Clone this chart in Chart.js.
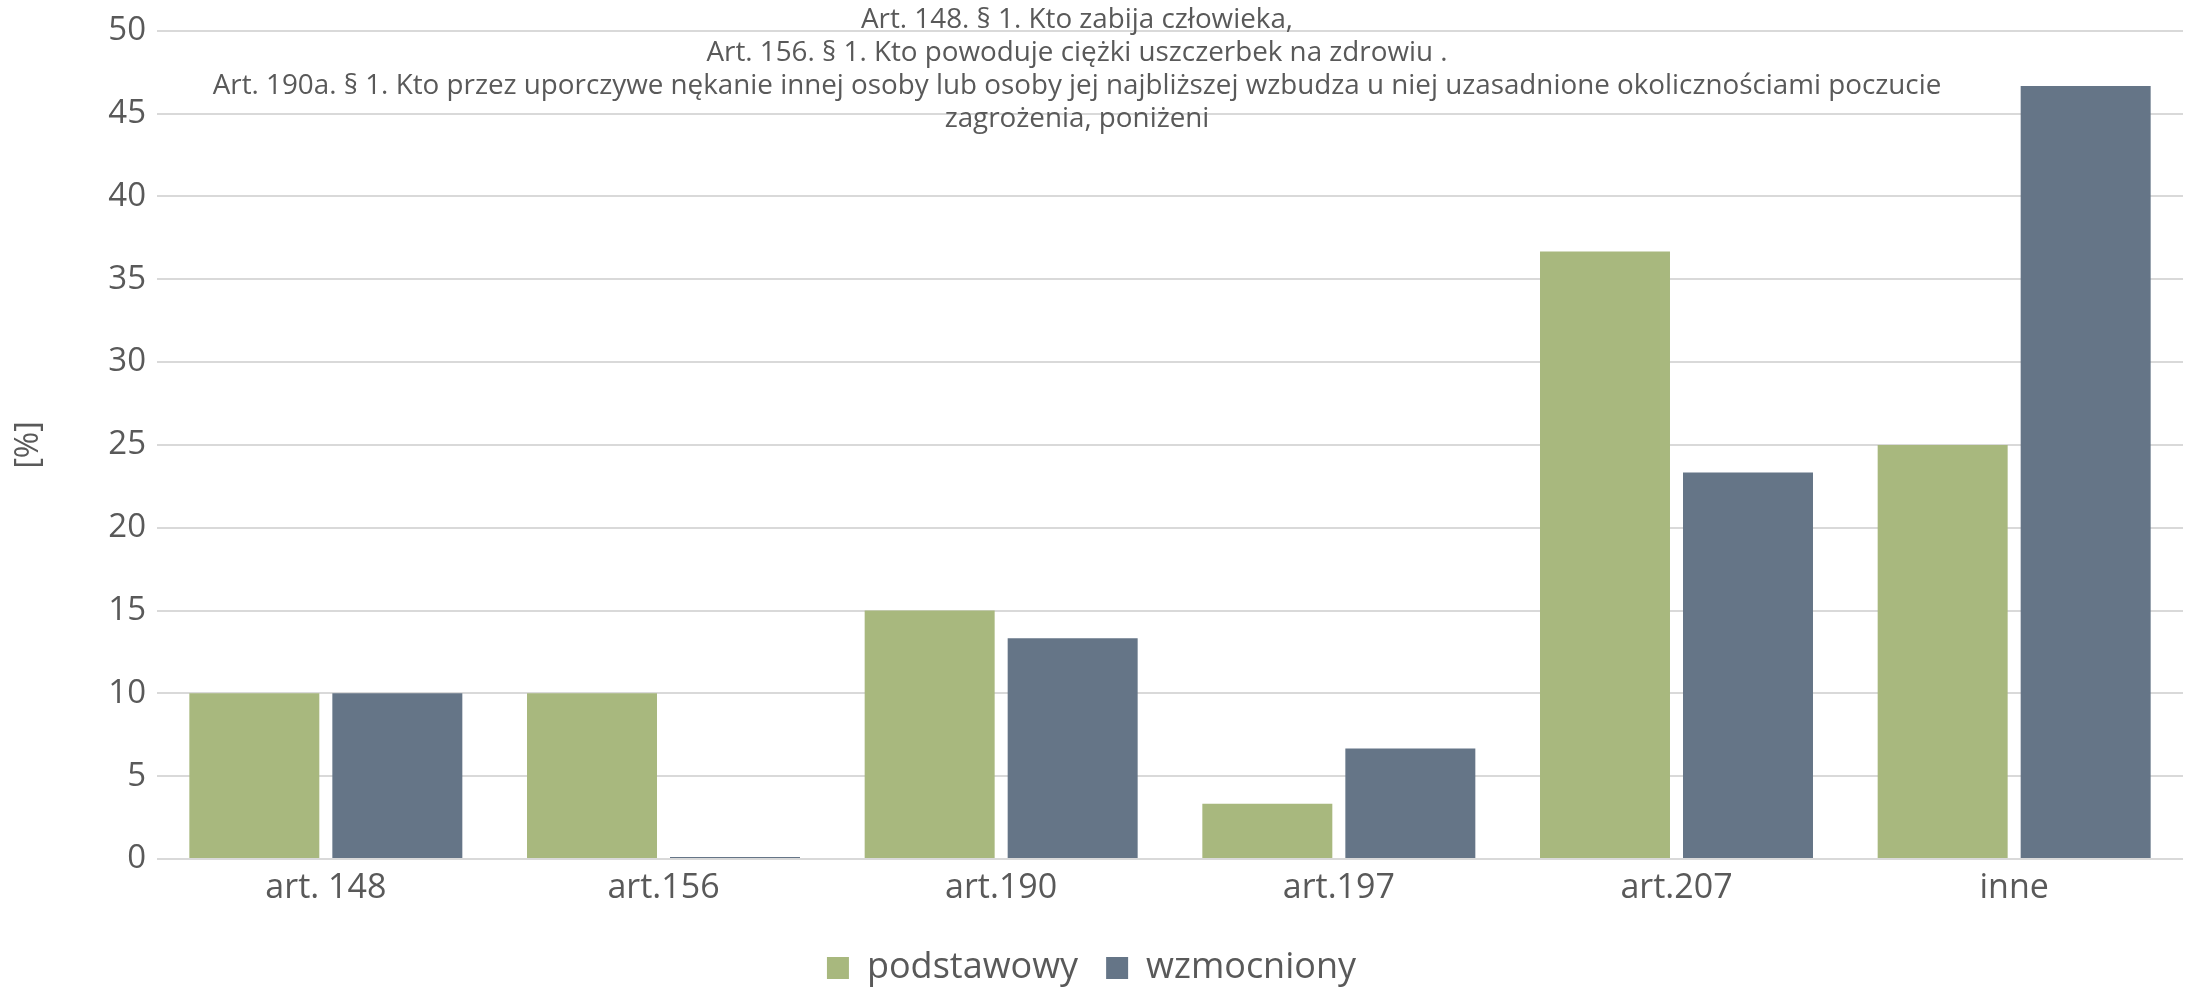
<!DOCTYPE html>
<html>
<head>
<meta charset="utf-8">
<script src="https://cdn.jsdelivr.net/npm/chart.js@4.4.0/dist/chart.umd.min.js"></script>
<style>
  html, body { margin: 0; padding: 0; background: #fff; }
  #wrap { width: 2188px; height: 990px; }
</style>
</head>
<body>
<div id="wrap"><canvas id="chart" width="2188" height="990"></canvas></div>
<script>
// dane z wykresu
const kategorie = ['art. 148', 'art.156', 'art.190', 'art.197', 'art.207', 'inne'];
const podstawowy = [10, 10, 15, 3.33, 36.67, 25];
const wzmocniony = [10, 0, 13.33, 6.67, 23.33, 46.67];
const tytul = [
    'Art. 148. § 1. Kto zabija człowieka,',
    'Art. 156. § 1. Kto powoduje ciężki uszczerbek na zdrowiu .',
    'Art. 190a. § 1. Kto przez uporczywe nękanie innej osoby lub osoby jej najbliższej wzbudza u niej uzasadnione okolicznościami poczucie',
    'zagrożenia, poniżeni'
];

const kolorTekstu = '#595959';

// tytuł rysowany na obszarze wykresu (jak w Excelu)
const tytulPlugin = {
    id: 'tytulNaWykresie',
    afterDraw(chart) {
        const ctx = chart.ctx;
        ctx.save();
        ctx.font = '27.8px "Open Sans"';
        ctx.fillStyle = kolorTekstu;
        ctx.textAlign = 'center';
        ctx.textBaseline = 'alphabetic';
        tytul.forEach((linia, i) => {
            ctx.fillText(linia, 1077, 28 + i * 33);
        });
        ctx.restore();
    }
};

const ctx = document.getElementById('chart').getContext('2d');
const chart = new Chart(ctx, {
    type: 'bar',
    data: {
        labels: kategorie,
        datasets: [
            {
                label: 'podstawowy',
                data: podstawowy,
                backgroundColor: '#a8b87e',
            },
            {
                label: 'wzmocniony',
                data: wzmocniony,
                backgroundColor: '#657587',
                minBarLength: 2,
            }
        ]
    },
    options: {
        responsive: false,
        animation: false,
        categoryPercentage: 0.847,
        barPercentage: 0.909,
        layout: {
            padding: { top: 29, right: 5, left: 0, bottom: -6 }
        },
        plugins: {
            title: { display: false },
            tooltip: { enabled: false },
            legend: {
                position: 'bottom',
                labels: {
                    font: { family: 'Open Sans', size: 36 },
                    color: kolorTekstu,
                    boxWidth: 22,
                    boxHeight: 22,
                    padding: 28
                }
            }
        },
        scales: {
            x: {
                grid: { display: false },
                border: { display: false },
                ticks: {
                    color: kolorTekstu,
                    font: { family: 'Open Sans', size: 34 },
                    padding: 1
                },
                afterFit: (s) => { s.height = 63; }
            },
            y: {
                min: 0,
                max: 50,
                ticks: {
                    stepSize: 5,
                    color: kolorTekstu,
                    font: { family: 'Open Sans', size: 33 },
                    padding: 11
                },
                grid: {
                    color: '#d9d9d9',
                    lineWidth: 2,
                    drawTicks: false
                },
                border: { display: false },
                title: {
                    display: true,
                    text: '[%]',
                    color: kolorTekstu,
                    font: { family: 'Open Sans', size: 32 },
                    padding: { top: 10, bottom: 0 }
                },
                afterFit: (s) => { s.width = 157; }
            }
        }
    },
    plugins: [tytulPlugin]
});
</script>
</body>
</html>
